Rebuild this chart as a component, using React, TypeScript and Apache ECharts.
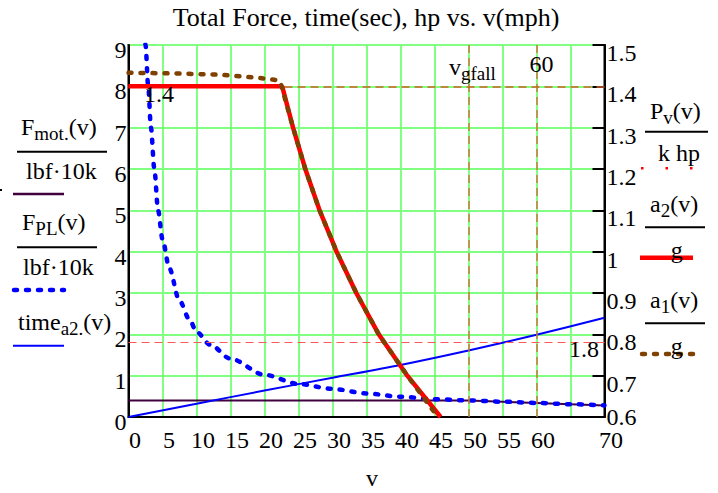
import React, { useEffect, useRef } from 'react';
import * as echarts from 'echarts';

const FONT = '"Liberation Serif", "Times New Roman", Times, serif';

// x axis (v, mph)
const xMin = 0;
const xMax = 70;
const xStep = 5;
// left axis (force / time)
const yLeftMin = 0;
const yLeftMax = 9;
const yLeftStep = 1;
// right axis (hp, accel/g)
const yRightMin = 0.6;
const yRightMax = 1.5;
const yRightStep = 0.1;

// F_mot.(v) / (lbf·10k)
const motV = [0, 50, 55, 60, 65, 70];
const motY = [0.4, 0.4, 0.37, 0.34, 0.31, 0.28];

// F_PL(v) / (lbf·10k)
const fplV = [2.3, 2.5, 2.9, 3.3, 3.8, 4.35, 5, 6, 7.45, 9, 10, 12, 15, 20, 25, 30, 35, 40, 45, 50, 55, 60, 65, 70];
const fplY = [9.6, 9.0, 8.0, 7.0, 6.0, 5.0, 4.3, 3.6, 2.83, 2.35, 2.06, 1.75, 1.41, 1.02, 0.8, 0.68, 0.57, 0.49, 0.43, 0.4, 0.37, 0.34, 0.31, 0.28];

// time_a2.(v)
const timeV = [0, 10, 20, 30, 40, 50, 60, 70];
const timeY = [0, 0.32, 0.64, 0.95, 1.26, 1.61, 1.99, 2.4];

// a2(v)/g  (right axis)
const a2V = [0, 22.6, 24.2, 26.0, 28.1, 30.6, 33.5, 36.8, 41.0, 45.9];
const a2Y = [1.4, 1.4, 1.3, 1.2, 1.1, 1.0, 0.9, 0.8, 0.7, 0.6];

// a1(v)/g  (right axis)
const a1V = [0, 7, 13.6, 19.4, 21.4, 22.3, 24.2, 26.0, 28.1, 30.6, 33.5, 36.8, 41.0, 45.5];
const a1Y = [1.433, 1.431, 1.428, 1.42, 1.416, 1.412, 1.3, 1.2, 1.1, 1.0, 0.9, 0.8, 0.7, 0.6];

// markers
const vMarkers = [50, 60];
const yMarkerLeft = 1.8;
const yMarkerRight = 1.4;

const TITLE = 'Total Force, time(sec), hp vs. v(mph)';

const zip = (a: number[], b: number[]) => a.map((v, i) => [v, b[i]]);

const rich = {
  m: { fontFamily: FONT, fontSize: 24, fill: '#000' },
  s: { fontFamily: FONT, fontSize: 19, fill: '#000', padding: [12, 0, 0, 0] },
};

const txt = (x: number, y: number, text: string, align = 'left', size = 24, isRich = false) => ({
  type: 'text',
  x,
  y,
  z: 10,
  style: {
    text,
    fontFamily: FONT,
    fontSize: size,
    fill: '#000',
    textAlign: align,
    textVerticalAlign: 'middle',
    ...(isRich ? { rich } : {}),
  },
});

const ln = (x1: number, x2: number, y: number, color = '#000', width = 2, dash?: number[], cap = 'butt') => ({
  type: 'line',
  z: 9,
  shape: { x1, y1: y, x2, y2: y },
  style: { stroke: color, lineWidth: width, lineDash: dash, lineCap: cap },
});

const labelRich = (extra: any = {}) => ({
  fontFamily: FONT,
  fontSize: 24,
  color: '#000',
  lineHeight: 18,
  ...extra,
});

export default function App() {
  const ref = useRef<HTMLDivElement>(null);
  useEffect(() => {
    if (!ref.current) return;
    const chart = echarts.init(ref.current, undefined, { renderer: 'svg' });
    const green = '#80ff80';
    const option: any = {
      animation: false,
      backgroundColor: '#fff',
      grid: {
        left: 128.5,
        top: 45,
        width: 476,
        height: 372,
        show: true,
        borderColor: '#000',
        borderWidth: 2,
        backgroundColor: 'transparent',
      },
      xAxis: {
        type: 'value',
        min: xMin,
        max: xMax,
        interval: xStep,
        axisLine: { show: true, onZero: false, lineStyle: { color: '#000', width: 2 } },
        axisTick: { show: false },
        splitLine: { show: true, lineStyle: { color: green, width: 2 } },
        axisLabel: {
          fontFamily: FONT,
          fontSize: 24,
          lineHeight: 18,
          color: '#000',
          margin: 14,
          padding: [0, 0, 0, 13],
          showMinLabel: true,
          showMaxLabel: true,
          hideOverlap: false,
        },
      },
      yAxis: [
        {
          type: 'value',
          position: 'left',
          min: yLeftMin,
          max: yLeftMax,
          interval: yLeftStep,
          axisLine: { show: true, lineStyle: { color: '#000', width: 2 } },
          axisTick: { show: false },
          splitLine: { show: true, lineStyle: { color: green, width: 2 } },
          axisLabel: {
            margin: 2,
            showMinLabel: true,
            showMaxLabel: true,
            hideOverlap: false,
            formatter: (v: number) => `{a|${v}}`,
            rich: { a: labelRich({ padding: [10, 0, 0, 0] }) },
          },
        },
        {
          type: 'value',
          position: 'right',
          min: yRightMin,
          max: yRightMax,
          interval: yRightStep,
          axisLine: { show: true, lineStyle: { color: '#000', width: 2 } },
          axisTick: { show: true, inside: true, length: 12, lineStyle: { color: '#000', width: 2 } },
          splitLine: { show: false },
          axisLabel: {
            margin: 2,
            showMinLabel: true,
            showMaxLabel: true,
            hideOverlap: false,
            formatter: (v: number) => {
              const s = String(Math.round(v * 10) / 10);
              return Math.abs(v - yRightMin) < 1e-6 ? `{b|${s}}` : `{a|${s}}`;
            },
            rich: {
              a: labelRich({ padding: [16, 0, 0, 0] }),
              b: labelRich({ padding: [0, 0, 0, 0] }),
            },
          },
        },
      ],
      series: [
        {
          type: 'line',
          name: 'markersLeft',
          yAxisIndex: 0,
          data: [],
          z: 1,
          markLine: {
            silent: true,
            symbol: 'none',
            label: { show: false },
            data: [
              ...vMarkers.map((v) => ({ xAxis: v, lineStyle: { color: '#c8783a', width: 1.5, type: [8, 5] } })),
              { yAxis: yMarkerLeft, lineStyle: { color: '#ff5a5a', width: 1.2, type: [8, 5] } },
            ],
          },
        },
        {
          type: 'line',
          name: 'markersRight',
          yAxisIndex: 1,
          data: [],
          z: 1,
          markLine: {
            silent: true,
            symbol: 'none',
            label: { show: false },
            data: [{ yAxis: yMarkerRight, lineStyle: { color: '#d0602a', width: 1.5, type: [8, 5] } }],
          },
        },
        {
          type: 'line',
          name: 'F_mot',
          yAxisIndex: 0,
          data: zip(motV, motY),
          showSymbol: false,
          z: 3,
          lineStyle: { color: '#400040', width: 2 },
        },
        {
          type: 'line',
          name: 'F_PL',
          yAxisIndex: 0,
          data: zip(fplV, fplY),
          showSymbol: false,
          smooth: 0.3,
          smoothMonotone: 'x',
          z: 4,
          lineStyle: { color: '#0000ff', width: 4.5, type: [3, 9], cap: 'round' },
        },
        {
          type: 'line',
          name: 'time_a2',
          yAxisIndex: 0,
          data: zip(timeV, timeY),
          showSymbol: false,
          smooth: 0.3,
          z: 4,
          lineStyle: { color: '#0000ff', width: 2 },
        },
        {
          type: 'line',
          name: 'a2',
          yAxisIndex: 1,
          data: zip(a2V, a2Y),
          showSymbol: false,
          z: 5,
          lineStyle: { color: '#ff0000', width: 4.5 },
        },
        {
          type: 'line',
          name: 'a1',
          yAxisIndex: 1,
          data: zip(a1V, a1Y),
          showSymbol: false,
          z: 6,
          lineStyle: { color: '#804000', width: 4.5, type: [3, 9], cap: 'round' },
        },
      ],
      graphic: [
        txt(366, 17, TITLE, 'center', 26),
        txt(372, 478, 'v', 'center', 24),
        // marker labels
        txt(144, 94, '1.4'),
        txt(599, 349, '1.8', 'right'),
        txt(449, 67, '{m|v}{s|gfall}', 'left', 24, true),
        txt(541.5, 64, '60', 'center'),
        // left legend
        txt(21, 127, '{m|F}{s|mot.}{m|(v)}', 'left', 24, true),
        ln(17, 107, 151.7),
        txt(26, 171, 'lbf·10k'),
        ln(13, 64, 194, '#400040', 2.5),
        txt(22, 222, '{m|F}{s|PL}{m|(v)}', 'left', 24, true),
        ln(17, 97, 247.3),
        txt(23, 267, 'lbf·10k'),
        ln(14, 64, 290, '#0000ff', 4.5, [3, 9], 'round'),
        txt(18, 322, '{m|time}{s|a2.}{m|(v)}', 'left', 24, true),
        ln(13, 64, 345.7, '#0000ff', 2),
        // right legend
        txt(650, 111, '{m|P}{s|v}{m|(v)}', 'left', 24, true),
        ln(645, 708, 131.7),
        txt(658, 153, 'k hp'),
        ln(641, 693, 168.3, '#ff0000', 2.5, [2.5, 22]),
        txt(650, 204, '{m|a}{s|2}{m|(v)}', 'left', 24, true),
        ln(645, 705, 227.3),
        ln(640, 693, 257.7, '#ff0000', 4.5),
        txt(676.7, 250, 'g', 'center'),
        txt(650, 300, '{m|a}{s|1}{m|(v)}', 'left', 24, true),
        ln(645, 705, 323.3),
        ln(642, 693, 354, '#804000', 4.5, [3, 9], 'round'),
        txt(676.7, 346, 'g', 'center'),
        { type: 'rect', shape: { x: 0, y: 189, width: 2, height: 2 }, style: { fill: '#000' } },
      ],
    };
    chart.setOption(option);
    return () => chart.dispose();
  }, []);
  return <div ref={ref} style={{ position: 'fixed', left: 0, top: 0, width: 718, height: 493 }} />;
}
